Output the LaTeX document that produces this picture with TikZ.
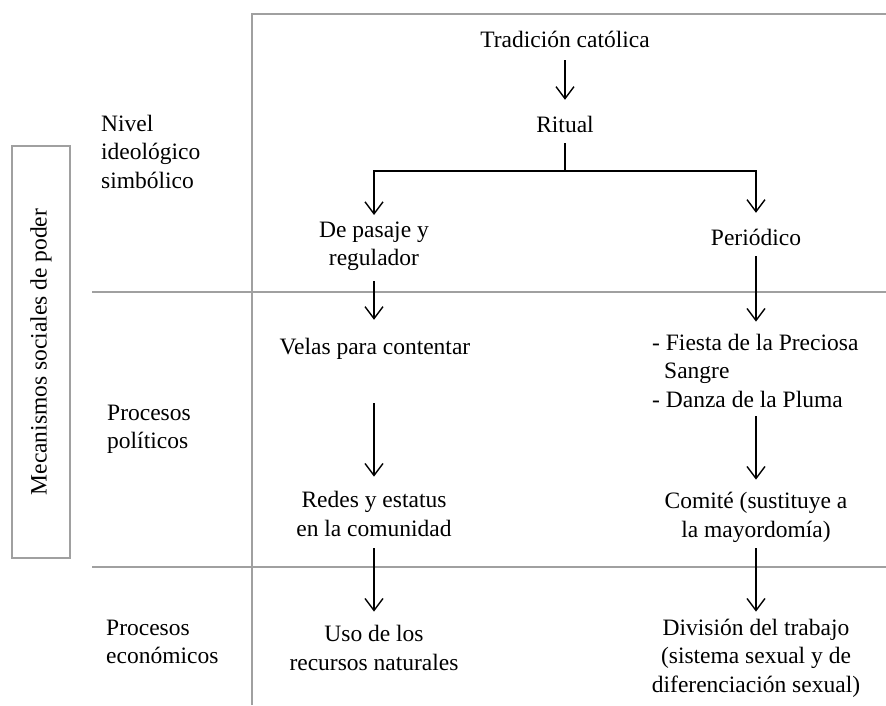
\documentclass[tikz,border=0pt]{standalone}
\usepackage{fontspec}
\setmainfont{Liberation Serif}
\usetikzlibrary{arrows.meta,calc}
\definecolor{frame}{HTML}{A0A0A0}
\tikzset{
  txt/.style={inner sep=0pt, font=\fontsize{23.5pt}{28.5pt}\selectfont,
    execute at begin node=\strut, execute at end node=\strut},
  ctxt/.style={txt, align=center},
  ltxt/.style={txt, align=left, anchor=west},
  arr/.style={draw=black, line width=1.4pt, -{Straight Barb[length=12pt,width=18pt]}},
  link/.style={draw=black, line width=1.4pt},
  grid/.style={draw=frame, line width=2.2pt}
}
\begin{document}
\begin{tikzpicture}[x=1pt,y=-1pt]
\useasboundingbox (0,0) rectangle (886,705);
% frame
\draw[grid] (252,705) -- (252,14) -- (886,14);
\draw[grid] (92,292) -- (886,292);
\draw[grid] (92,567) -- (886,567);
% left box
\node[txt, draw=frame, line width=2pt, rotate=90, minimum width=412pt, minimum height=58pt] (mec) at (41,352) {Mecanismos sociales de poder};
% row labels
\node[ltxt] (niv) at (101,156) {Nivel\\ideológico\\simbólico};
\node[ltxt] (pol) at (107,431) {Procesos\\políticos};
\node[ltxt] (eco) at (106,646) {Procesos\\económicos};
% content nodes
\node[ctxt] (tc) at (565,42) {Tradición católica};
\node[ctxt] (rit) at (565,127) {Ritual};
\node[ctxt] (dp) at (374,248) {De pasaje y\\regulador};
\node[ctxt] (per) at (756,240) {Periódico};
\node[ctxt] (vel) at (375,349) {Velas para contentar};
\node[ctxt] (red) at (374,518) {Redes y estatus\\en la comunidad};
\node[ctxt] (uso) at (374,652) {Uso de los\\recursos naturales};
\node[ltxt] (fie) at (652,375) {- Fiesta de la Preciosa\\\hspace{12pt}Sangre\\- Danza de la Pluma};
\node[ctxt] (com) at (756,519) {Comité (sustituye a\\la mayordomía)};
\node[ctxt] (div) at (756,660) {División del trabajo\\(sistema sexual y de\\diferenciación sexual)};
% connectors
\coordinate (br) at (565,171);
\draw[arr, shorten <=3.75pt, shorten >=12.75pt] (tc) -- (rit);
\draw[link, shorten <=1.75pt] (rit) -- (br);
\draw[arr, shorten >=6.5pt] (br) -| (dp);
\draw[arr, shorten >=12.75pt] (br) -| (per);
\draw[arr, shorten <=6.5pt, shorten >=14.75pt] (dp) -- (vel.north -| dp);
\draw[arr, shorten <=39.75pt, shorten >=14.5pt] (red |- vel.south) -- (red);
\draw[arr, shorten <=3.5pt, shorten >=13.5pt] (red) -- (uso);
\draw[arr, shorten <=1.75pt, shorten >=12.25pt] (per) -- (per |- fie.north);
\draw[arr, shorten <=0.25pt, shorten >=12.5pt] (com |- fie.south) -- (com);
\draw[arr, shorten <=2.5pt, shorten >=7.25pt] (com) -- (div);
\end{tikzpicture}
\end{document}
